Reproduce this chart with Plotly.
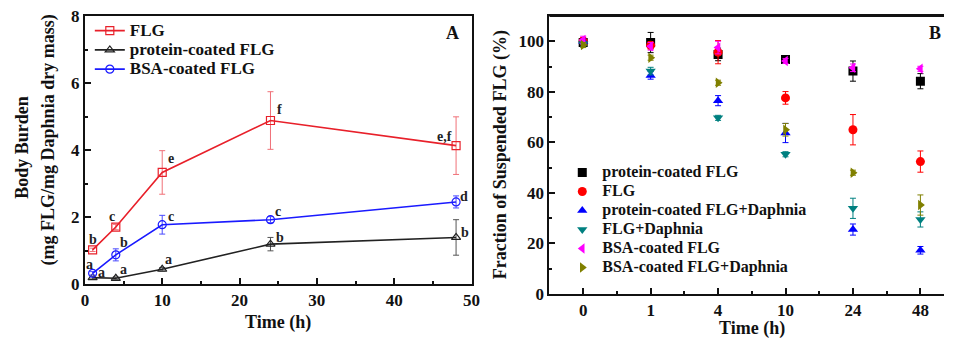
import plotly.graph_objects as go

# ---------------- Panel A data ----------------
time_a = [1, 4, 10, 24, 48]
flg = [1.02, 1.70, 3.33, 4.88, 4.13]
flg_err = [0.05, 0.08, 0.65, 0.86, 0.86]
flg_lab = ["b", "c", "e", "f", "e,f"]
prot = [0.19, 0.17, 0.44, 1.19, 1.39]
prot_err = [0.04, 0.04, 0.05, 0.2, 0.53]
prot_lab = ["a", "a", "a", "b", "b"]
bsa = [0.32, 0.87, 1.77, 1.92, 2.45]
bsa_err = [0.05, 0.18, 0.28, 0.09, 0.18]
bsa_lab = ["a", "b", "c", "c", "d"]

# ---------------- Panel B data ----------------
time_b = ["0", "1", "4", "10", "24", "48"]
b_prot = [99.5, 99.5, 94.8, 92.8, 88.2, 84.2]
b_prot_err = [1.5, 4.0, 2.5, 1.0, 4.0, 3.0]
b_flg = [100.0, 98.4, 95.7, 77.6, 65.0, 52.4]
b_flg_err = [1.5, 1.5, 4.6, 2.5, 6.0, 4.2]
b_prot_d = [100.0, 86.5, 76.5, 63.7, 25.5, 17.3]
b_prot_d_err = [1.0, 1.5, 2.0, 3.8, 2.2, 1.5]
b_flg_d = [99.0, 88.2, 69.7, 55.3, 33.9, 29.5]
b_flg_d_err = [1.0, 1.5, 1.0, 1.0, 4.0, 3.0]
b_bsa = [100.5, 98.0, 97.5, 92.2, 89.5, 89.1]
b_bsa_err = [1.5, 1.5, 2.5, 1.0, 1.5, 1.0]
b_bsa_d = [98.5, 93.5, 83.6, 65.0, 48.0, 35.2]
b_bsa_d_err = [1.0, 1.0, 1.0, 2.5, 1.0, 4.0]

FONT = "Liberation Serif"
fig = go.Figure()

def ebar(arr, color):
    return dict(type="data", array=arr, visible=True, color=color, thickness=1, width=3)

def lname(s, size):
    return f'<span style="font-size:{size}px"><b>{s}</b></span>'

# Panel A traces
seriesA = [
    ("FLG", flg, flg_err, "#e8202a", "#f07078", "square-open"),
    ("protein-coated FLG", prot, prot_err, "#222222", "#555555", "triangle-up-open"),
    ("BSA-coated FLG", bsa, bsa_err, "#1a1aff", "#4a4aff", "circle-open"),
]
for name, ys, err, col, ecol, sym in seriesA:
    fig.add_trace(go.Scatter(
        x=time_a, y=ys, name=lname(name, 17), mode="lines+markers",
        line=dict(color=col, width=1.6),
        marker=dict(symbol=sym, size=8, color=col, line=dict(width=1.2, color=col)),
        error_y=ebar(err, ecol), xaxis="x", yaxis="y", legend="legend"))

# Panel B traces
xb = list(range(len(time_b)))
seriesB = [
    ("protein-coated FLG", b_prot, b_prot_err, "#000000", "square"),
    ("FLG", b_flg, b_flg_err, "#ff0000", "circle"),
    ("protein-coated FLG+Daphnia", b_prot_d, b_prot_d_err, "#0000ff", "triangle-up"),
    ("FLG+Daphnia", b_flg_d, b_flg_d_err, "#008080", "triangle-down"),
    ("BSA-coated FLG", b_bsa, b_bsa_err, "#ff00ff", "triangle-left"),
    ("BSA-coated FLG+Daphnia", b_bsa_d, b_bsa_d_err, "#808000", "triangle-right"),
]
for name, ys, err, col, sym in seriesB:
    fig.add_trace(go.Scatter(
        x=xb, y=ys, name=lname(name, 16), mode="markers",
        marker=dict(symbol=sym, size=9, color=col),
        error_y=ebar(err, col), xaxis="x2", yaxis="y2", legend="legend2"))

# significance letters (panel A)
offsets = {
    "flg": [(0, 10), (-4, 11), (9, 14), (9, 11), (-12, 9)],
    "prot": [(9, 5), (8, 9), (6, 10), (10, 7), (9, 5)],
    "bsa": [(-3, 9), (8, 12), (9, 8), (8, 8), (8, 5)],
}
annots = []
for key, ys, labs in [("flg", flg, flg_lab), ("prot", prot, prot_lab), ("bsa", bsa, bsa_lab)]:
    for i, (t, v, l) in enumerate(zip(time_a, ys, labs)):
        dx, dy = offsets[key][i]
        annots.append(dict(x=t, y=v, xref="x", yref="y", text=f"<b>{l}</b>", showarrow=False,
                           xshift=dx, yshift=dy, font=dict(family=FONT, size=14, color="#222")))

def txt(x, y, s, size=16, angle=0, xa="center"):
    return dict(x=x, y=y, xref="paper", yref="paper", text=s, showarrow=False, textangle=angle,
                xanchor=xa, yanchor="middle", font=dict(family=FONT, size=size, color="#111"))

W, H = 953, 339
mt, mb = 16, 45
ph = H - mt - mb
def px(xp): return xp / W
def py(yp): return (H - mb - yp) / ph  # pixel y -> paper fraction

annots += [
    txt(px(278), py(322), "<b>Time (h)</b>", 18),
    txt(px(758), py(328), "<b>Time (h)</b>", 18),
    txt(px(18), py(147), "<b>Body Burden</b>", 18, -90),
    txt(px(45), py(140), "<b>(mg FLG/mg Daphnia dry mass)</b>", 18, -90),
    txt(px(503), py(155), "<b>Fraction of Suspended FLG (%)</b>", 18, -90),
    txt(px(455), py(33), "<b>A</b>", 18),
    txt(px(944), py(33), "<b>B</b>", 18),
]

axis_common = dict(showline=True, linecolor="#111", linewidth=2, mirror=True, ticks="inside",
                   ticklen=6, tickwidth=1.5, tickcolor="#111", showgrid=False, zeroline=False,
                   tickfont=dict(family=FONT, size=17, color="#111"))

fig.update_layout(
    width=W, height=H, margin=dict(l=0, r=0, t=mt, b=mb),
    paper_bgcolor="white", plot_bgcolor="white",
    font=dict(family=FONT, color="#111"),
    xaxis=dict(domain=[px(82), px(474)], anchor="y", range=[0, 50],
               tickvals=[0, 10, 20, 30, 40, 50], ticktext=["<b>0</b>", "<b>10</b>", "<b>20</b>", "<b>30</b>", "<b>40</b>", "<b>50</b>"],
               minor=dict(dtick=5, ticks="inside", ticklen=3, tickcolor="#111"), **axis_common),
    yaxis=dict(domain=[py(284), 1], anchor="x", range=[0, 8],
               tickvals=[0, 2, 4, 6, 8], ticktext=["<b>0</b>", "<b>2</b>", "<b>4</b>", "<b>6</b>", "<b>8</b>"],
               minor=dict(dtick=1, ticks="inside", ticklen=3, tickcolor="#111"), **axis_common),
    xaxis2=dict(domain=[px(553), 1], anchor="y2", range=[-0.5, 5.35],
                tickvals=xb, ticktext=[f"<b>{t}</b>" for t in time_b],
                minor=dict(tickvals=[i + 0.5 for i in xb], ticks="inside", ticklen=3, tickcolor="#111"),
                **axis_common),
    yaxis2=dict(domain=[0, 1], anchor="x2", range=[0, 110],
                tickvals=[0, 20, 40, 60, 80, 100], ticktext=["<b>0</b>", "<b>20</b>", "<b>40</b>", "<b>60</b>", "<b>80</b>", "<b>100</b>"],
                minor=dict(dtick=10, ticks="inside", ticklen=3, tickcolor="#111"),
                **{**axis_common, "mirror": False}),
    legend=dict(x=px(87), y=py(16), xanchor="left", yanchor="top", bgcolor="rgba(0,0,0,0)",
                font=dict(family=FONT, size=12.5, color="#111"), tracegroupgap=0, itemwidth=30),
    legend2=dict(x=px(566), y=py(158), xanchor="left", yanchor="top", bgcolor="rgba(0,0,0,0)",
                 font=dict(family=FONT, size=12, color="#111"), tracegroupgap=0, itemwidth=30),
    annotations=annots,
    showlegend=True,
)
# top border for panel B
fig.add_shape(type="line", xref="paper", yref="paper", x0=px(553), x1=1, y0=1, y1=1,
              line=dict(color="#111", width=2))

fig.write_html("out.html", config={"displayModeBar": False},
               post_script="document.body.style.margin='0px';")
